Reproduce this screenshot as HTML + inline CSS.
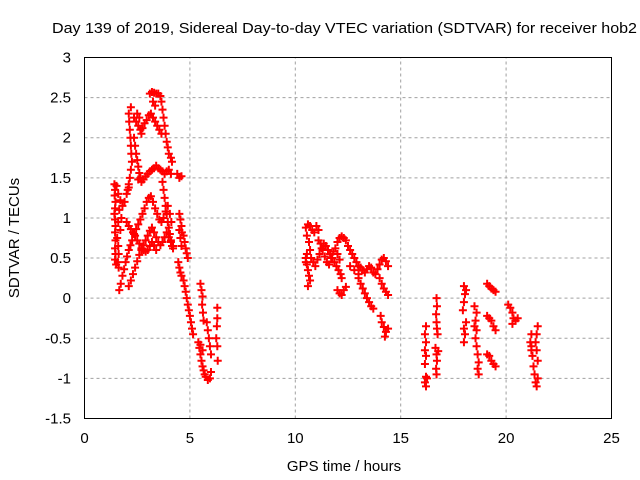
<!DOCTYPE html>
<html><head><meta charset="utf-8"><style>
body{margin:0;background:#fff;}
svg{display:block;font-family:"Liberation Sans",sans-serif;}
</style></head><body>
<svg id="chart" width="640" height="480" viewBox="0 0 640 480" xmlns="http://www.w3.org/2000/svg">
<rect width="640" height="480" fill="#fff"/>
<text x="52" y="33" font-size="15" textLength="585" lengthAdjust="spacingAndGlyphs" fill="#000">Day 139 of 2019, Sidereal Day-to-day VTEC variation (SDTVAR) for receiver hob2</text>
<g id="grid"></g>
<g id="ticks"></g>
<g id="marks"></g>
<rect x="84.5" y="57.5" width="527" height="361" fill="none" stroke="#000" stroke-width="1"/>
<text x="344" y="471" font-size="15" text-anchor="middle">GPS time / hours</text>
<text transform="translate(19,238) rotate(-90)" font-size="15" text-anchor="middle">SDTVAR / TECUs</text>
</svg>
<script>
const xTicks=[0,5,10,15,20,25];
const yTicks=[3,2.5,2,1.5,1,0.5,0,-0.5,-1,-1.5];
const yTickLabels=["3","2.5","2","1.5","1","0.5","0","-0.5","-1","-1.5"];
const cluster1=[
[1.42,1.42],[1.45,1.35],[1.43,1.28],[1.47,1.2],[1.45,1.12],[1.42,1.05],[1.45,0.98],[1.47,0.9],[1.45,0.82],[1.47,0.72],[1.45,0.62],[1.47,0.55],[1.45,0.48],[1.5,0.42],
[1.52,1.4],[1.6,1.3],[1.7,1.22],[1.8,1.15],[1.9,1.2],[2.0,1.3],[2.1,1.38],[1.65,1.1],[1.75,1.0],[1.6,0.95],[1.7,0.85],
[1.55,0.75],[1.6,0.65],[1.62,0.55],[1.58,0.45],[1.62,0.38],
[1.65,0.1],[1.72,0.18],[1.8,0.28],[1.88,0.36],[1.95,0.45],[2.02,0.52],[2.1,0.6],[2.18,0.66],[2.26,0.72],[2.35,0.8],[2.45,0.86],[2.55,0.92],[2.65,0.98],[2.75,1.05],[2.85,1.12],[2.95,1.2],[3.05,1.25],[3.15,1.27],[3.25,1.2],[3.35,1.12],[3.45,1.05],[3.55,0.98],[3.65,0.95],[3.75,1.0],[3.85,1.08],[3.95,1.15],[4.05,1.05],[4.12,0.95],
[2.1,0.15],[2.2,0.22],[2.3,0.3],[2.4,0.38],[2.5,0.46],[2.6,0.54],[2.7,0.6],[2.8,0.66],[2.9,0.72],[3.0,0.78],[3.1,0.84],[3.2,0.88],[3.3,0.82],[3.4,0.76],[3.5,0.7],[3.6,0.66],[3.7,0.7],[3.8,0.76],[3.9,0.82],[4.0,0.76],[4.1,0.7],[4.2,0.65],
[2.0,0.95],[2.1,0.9],[2.2,0.86],[2.3,0.82],[2.4,0.78],[2.5,0.72],[2.6,0.68],[2.7,0.62],[2.8,0.6],[2.9,0.58],[3.0,0.6],[3.1,0.65],[3.2,0.7],[3.3,0.66],[3.4,0.6],
[2.1,2.3],[2.12,2.2],[2.15,2.1],[2.18,2.0],[2.2,1.9],[2.22,1.8],[2.25,1.7],[2.2,1.6],[2.15,1.5],[2.1,1.42],[2.05,1.35],[2.2,2.38],
[2.35,2.25],[2.45,2.2],[2.55,2.15],[2.65,2.1],[2.75,2.12],[2.85,2.18],[2.95,2.22],[3.05,2.28],[3.15,2.3],[3.25,2.25],[3.35,2.2],[3.45,2.15],[3.55,2.1],[3.65,2.05],[2.5,2.3],[2.6,2.25],[2.7,2.05],
[3.1,2.55],[3.2,2.57],[3.3,2.56],[3.4,2.55],[3.5,2.55],[3.6,2.52],[3.65,2.45],[3.7,2.35],[3.75,2.25],[3.8,2.15],[3.85,2.05],[3.9,1.95],[3.95,1.88],[4.0,1.8],[4.1,1.75],[4.15,1.7],[3.25,2.45],[3.35,2.4],
[2.35,2.0],[2.4,1.9],[2.45,1.8],[2.5,1.72],[2.55,1.64],[2.6,1.56],[2.65,1.5],[2.55,1.48],[2.7,1.45],[2.8,1.48],[2.9,1.52],[3.0,1.55],[3.1,1.58],[3.2,1.6],
[3.3,1.62],[3.4,1.65],[3.5,1.62],[3.6,1.6],[3.7,1.58],[3.8,1.55],[3.9,1.58],[4.0,1.6],[4.1,1.55],
[3.7,1.45],[3.75,1.35],[3.8,1.25],[3.85,1.15],[3.9,1.05],[3.95,0.95],[4.0,0.88],[4.05,0.8],[4.1,0.72],[4.15,0.65],[4.2,0.62],
[4.4,1.55],[4.5,1.5],[4.6,1.52],
[4.5,1.05],[4.55,0.98],[4.6,0.9],[4.62,0.82],[4.7,0.78],[4.75,0.7],[4.8,0.62],[4.85,0.56],[4.9,0.5],[4.5,0.85],[4.55,0.75],[4.6,0.65],
[4.45,0.45],[4.5,0.38],[4.55,0.32],[4.6,0.28],[4.7,0.22],[4.75,0.15],[4.8,0.08],[4.85,0.0],[4.9,-0.08],[4.95,-0.15],[5.0,-0.22],[5.05,-0.3],[5.1,-0.38],[5.15,-0.45],
[5.5,0.18],[5.55,0.1],[5.6,0.02],[5.58,-0.08],[5.62,-0.18],[5.65,-0.28],
[5.4,-0.55],[5.45,-0.62],[5.5,-0.7],[5.55,-0.78],[5.6,-0.85],[5.65,-0.9],[5.7,-0.95],[5.75,-0.98],[5.85,-1.02],[5.95,-1.0],[6.0,-0.92],[5.5,-0.58],[5.6,-0.65],
[5.8,-0.3],[5.85,-0.4],[5.9,-0.5],[5.95,-0.6],[6.0,-0.7],[6.3,-0.12],[6.3,-0.25],[6.28,-0.35],[6.25,-0.5],[6.3,-0.6],[6.32,-0.78]
];
const cluster2=[
[10.5,0.88],[10.6,0.92],[10.7,0.9],[10.8,0.85],[10.9,0.82],[11.0,0.9],[11.1,0.85],[10.55,0.78],[10.65,0.7],
[10.5,0.5],[10.55,0.42],[10.6,0.35],[10.65,0.28],[10.7,0.22],[10.6,0.15],[10.55,0.55],[10.5,0.45],[10.7,0.6],
[10.75,0.5],[10.85,0.45],[10.95,0.4],[11.05,0.48],[11.15,0.55],[11.25,0.62],[11.35,0.68],[11.45,0.65],[11.55,0.6],[11.65,0.55],[11.75,0.5],[11.85,0.45],[11.95,0.4],[12.05,0.35],[12.15,0.3],[12.2,0.25],
[11.1,0.72],[11.2,0.68],[11.3,0.6],[11.4,0.52],[11.5,0.45],[11.6,0.42],[11.7,0.5],[11.8,0.58],[11.9,0.62],[12.0,0.55],[12.1,0.48],
[12.0,0.7],[12.1,0.75],[12.2,0.77],[12.3,0.75],[12.4,0.72],
[12.0,0.1],[12.1,0.06],[12.2,0.04],[12.3,0.1],[12.4,0.14],
[12.5,0.65],[12.6,0.6],[12.7,0.55],[12.8,0.5],[12.9,0.45],[13.0,0.4],[13.1,0.38],[13.2,0.35],[13.3,0.32],[13.4,0.36],[13.5,0.4],[13.6,0.38],[13.7,0.32],[13.8,0.3],[13.9,0.36],[14.0,0.42],[14.1,0.48],[14.2,0.5],[14.3,0.46],[14.4,0.4],[12.6,0.4],[12.8,0.35],[13.0,0.3],
[13.0,0.25],[13.1,0.18],[13.2,0.12],[13.3,0.06],[13.4,0.0],[13.5,-0.05],[13.6,-0.1],[13.7,-0.13],
[14.0,0.25],[14.1,0.18],[14.2,0.12],[14.3,0.08],[14.4,0.04],
[14.05,-0.22],[14.1,-0.3],[14.2,-0.36],[14.3,-0.42],[14.4,-0.38],[14.25,-0.48]
];
const cluster3=[
[16.2,-0.35],[16.15,-0.45],[16.2,-0.55],[16.15,-0.65],[16.2,-0.72],[16.15,-0.82],[16.2,-0.98],[16.15,-1.05],[16.2,-1.1],[16.25,-1.0],
[16.7,0.0],[16.72,-0.1],[16.68,-0.2],[16.7,-0.3],[16.72,-0.38],[16.75,-0.45],
[16.65,-0.62],[16.7,-0.7],[16.72,-0.78],[16.68,-0.88],[16.7,-0.95],[16.78,-0.66],
[18.0,0.15],[18.05,0.05],[18.0,-0.05],[17.95,-0.15],[18.0,-0.38],[18.05,-0.45],[18.0,-0.55],[18.1,-0.3],[18.1,0.1],
[18.5,-0.1],[18.6,-0.18],[18.55,-0.28],[18.6,-0.4],[18.55,-0.5],[18.6,-0.6],[18.65,-0.7],[18.7,-0.8],[18.65,-0.88],[18.7,-0.95],[18.5,-0.35],
[19.1,0.18],[19.2,0.15],[19.3,0.12],[19.4,0.1],[19.5,0.08],
[19.1,-0.22],[19.2,-0.25],[19.3,-0.28],[19.4,-0.35],[19.5,-0.4],
[19.1,-0.7],[19.2,-0.72],[19.3,-0.78],[19.4,-0.82],[19.5,-0.85],
[20.1,-0.08],[20.2,-0.12],[20.3,-0.18],[20.35,-0.25],[20.45,-0.28],[20.55,-0.25],[20.3,-0.32],
[21.2,-0.45],[21.15,-0.55],[21.2,-0.65],[21.25,-0.72],[21.2,-0.6],[21.3,-0.85],[21.35,-0.95],[21.4,-1.05],[21.45,-1.1],[21.5,-1.0],[21.5,-0.35],[21.45,-0.45],[21.4,-0.55],[21.45,-0.65],[21.5,-0.78]
];
const X0=84.5,X1=611.5,Y0=418.5,Y1=57.5;
function xs(t){return X0+(t-0)/(25-0)*(X1-X0);}
function ys(v){return Y0-(v-(-1.5))/(3-(-1.5))*(Y0-Y1);}
const NS='http://www.w3.org/2000/svg';
const grid=document.getElementById('grid'),ticks=document.getElementById('ticks'),marks=document.getElementById('marks');
function mk(tag,attrs,parent){const e=document.createElementNS(NS,tag);for(const k in attrs)e.setAttribute(k,attrs[k]);parent.appendChild(e);return e;}
xTicks.forEach(function(t){
  const x=xs(t);
  if(t>0&&t<25){const g=mk('line',{x1:x,y1:Y0,x2:x,y2:Y1,stroke:'#a0a0a0','stroke-dasharray':'3,3'},grid);
  
  }
  const l=mk('text',{x:x,y:443,'font-size':15,'text-anchor':'middle'},ticks);
  l.textContent=String(t);
  
  
});
yTicks.forEach(function(v,i){
  const y=ys(v);
  if(v<3&&v>-1.5){const g=mk('line',{x1:X0,y1:y,x2:X1,y2:y,stroke:'#a0a0a0','stroke-dasharray':'3,3'},grid);
  
  }
  const l=mk('text',{x:71,y:y+5,'font-size':15,'text-anchor':'end'},ticks);
  l.textContent=yTickLabels[i];
  
  
});
[cluster1,cluster2,cluster3].forEach(function(arr){
  arr.forEach(function(p){
    const x=xs(p[0]),y=ys(p[1]);
    const m=mk('path',{d:'M'+(x-4)+' '+y+'H'+(x+4)+'M'+x+' '+(y-4)+'V'+(y+4),stroke:'#f00','stroke-width':2,fill:'none'},marks);
    
    
  });
});
</script>
</body></html>
